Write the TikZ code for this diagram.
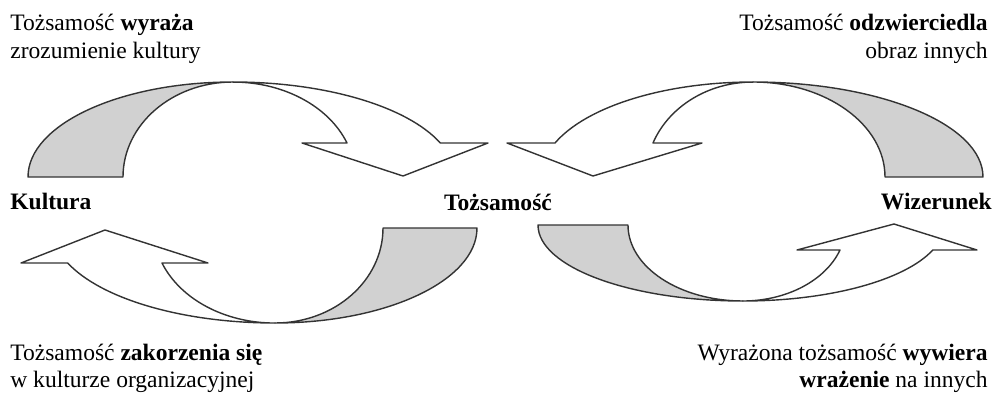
\documentclass[tikz,border=0pt]{standalone}
\usepackage{fontspec}
\setmainfont{Liberation Serif}
\usetikzlibrary{positioning}
\begin{document}
\begin{tikzpicture}[x=0.02cm, y=-0.02cm,
    band/.style={draw=black!80, line width=0.8pt, line join=round, fill=white},
    back/.style={band, fill=black!18},
    lbl/.style={inner sep=0pt, font=\fontsize{13.4}{15.6}\selectfont},
    key/.style={inner sep=0pt, font=\fontsize{13.4}{15.6}\selectfont\bfseries}]
    \useasboundingbox (0,0) rectangle (998,399);
    \draw[back] (28,177) arc[start angle=180, end angle=270, x radius=205, y radius=95] arc[start angle=270, end angle=180, x radius=110, y radius=95] -- cycle;
    \draw[band] (233,82) arc[start angle=270, end angle=339, x radius=222, y radius=95] -- (488,143) -- (403,176) -- (302,143) -- (347,143) arc[start angle=339, end angle=270, x radius=122, y radius=95] -- cycle;
    \draw[back] (983,177) arc[start angle=0, end angle=-90, x radius=230, y radius=95] arc[start angle=270, end angle=360, x radius=132, y radius=95] -- cycle;
    \draw[band] (753,82) arc[start angle=270, end angle=201, x radius=212, y radius=95] -- (507,143) -- (593,176) -- (702,143) -- (653,143) arc[start angle=201, end angle=270, x radius=107, y radius=95] -- cycle;
    \draw[back] (477,228) arc[start angle=0, end angle=90, x radius=202, y radius=95] arc[start angle=90, end angle=0, x radius=108, y radius=95] -- cycle;
    \draw[band] (275,323) arc[start angle=90, end angle=158.4, x radius=223, y radius=95] -- (21,263) -- (105,230) -- (208,263) -- (162,263) arc[start angle=158.4, end angle=90, x radius=121, y radius=95] -- cycle;
    \draw[back] (538,225) arc[start angle=180, end angle=90, x radius=205, y radius=76] arc[start angle=90, end angle=180, x radius=115, y radius=76] -- cycle;
    \draw[band] (743,301) arc[start angle=90, end angle=19.2, x radius=201, y radius=76] -- (977,250) -- (894,224) -- (797,250) -- (840,250) arc[start angle=19.2, end angle=90, x radius=103, y radius=76] -- cycle;
    \node[lbl, anchor=north west, align=left] (expr) at (10,14) {Tożsamość \textbf{wyraża}\\zrozumienie kultury};
    \node[lbl, anchor=north east, align=right] (refl) at (988,14) {Tożsamość \textbf{odzwierciedla}\\obraz innych};
    \node[key, anchor=base west] (kult) at (10,209) {Kultura};
    \node[key, anchor=base] (tozs) at (498,210) {Tożsamość};
    \node[key, anchor=base east] (wiz) at (992,209) {Wizerunek};
    \node[lbl, anchor=south west, align=left] (root) at (10,393) {Tożsamość \textbf{zakorzenia się}\\w kulturze organizacyjnej};
    \node[lbl, anchor=south east, align=right] (impr) at (988,393) {Wyrażona tożsamość \textbf{wywiera}\\\textbf{wrażenie} na innych};
\end{tikzpicture}
\end{document}
